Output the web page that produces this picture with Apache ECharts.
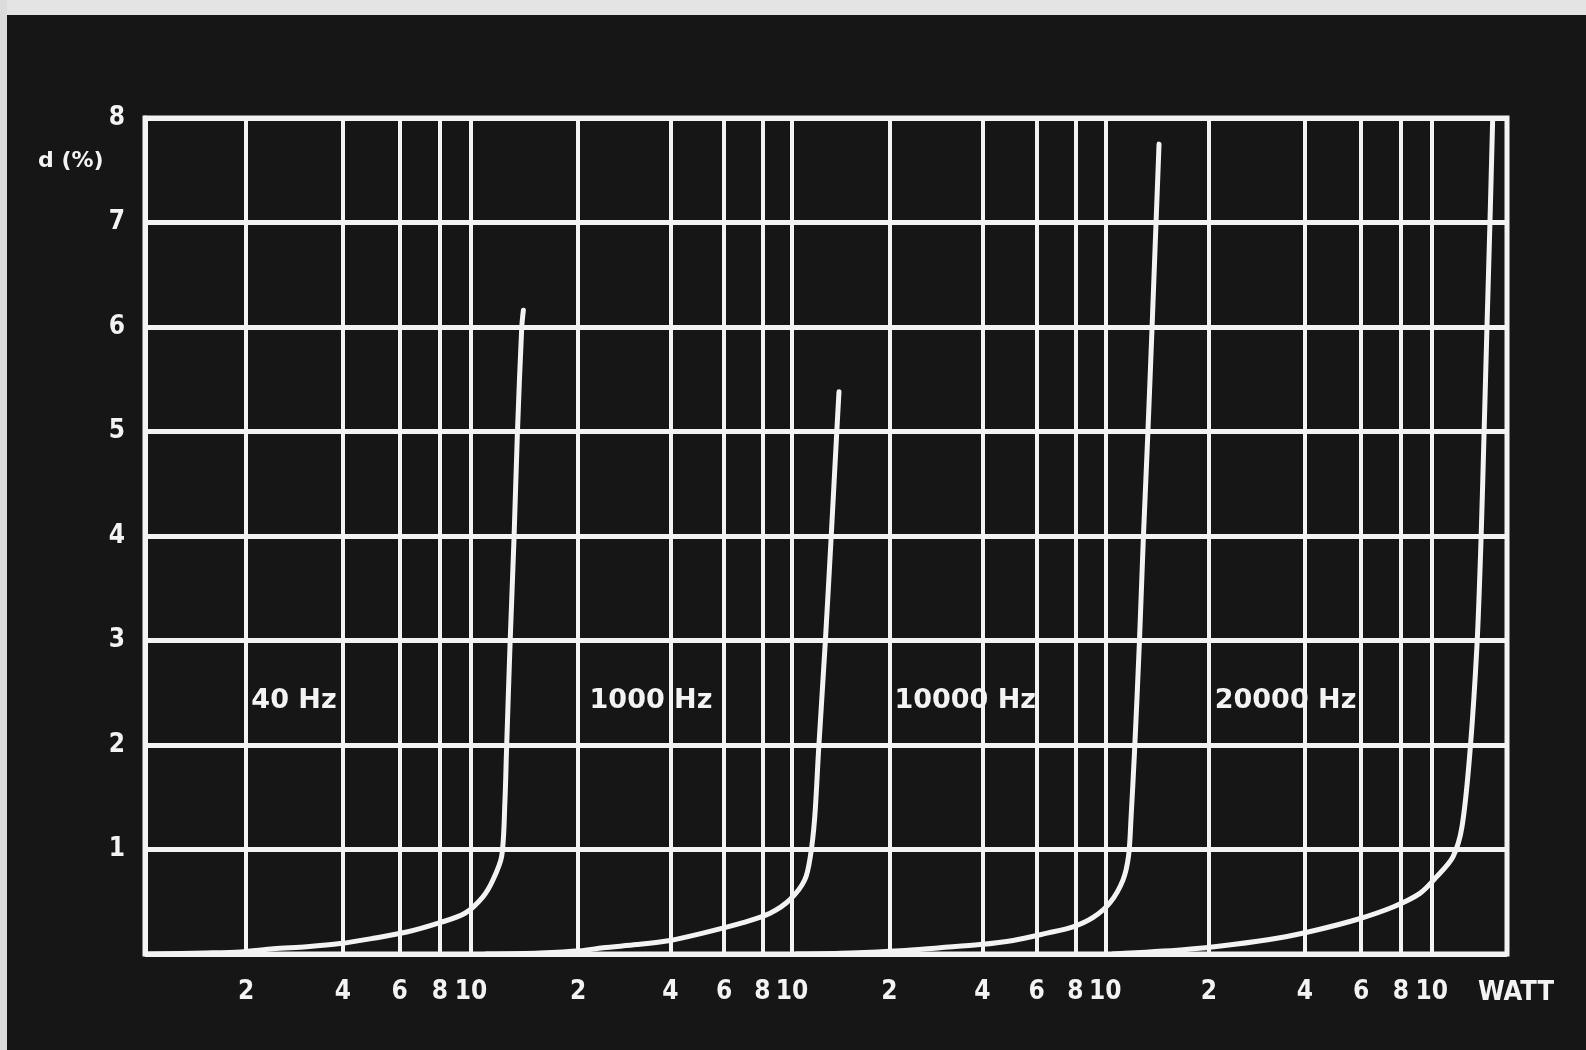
<!DOCTYPE html>
<html>
<head>
<meta charset="utf-8">
<script src="https://cdn.jsdelivr.net/npm/echarts@6/dist/echarts.min.js"></script>
<style>
html,body{margin:0;padding:0;background:#161616;}
#c{width:1586px;height:1050px;}
</style>
</head>
<body>
<div id="c"></div>
<script>
// ---- data ----
const wattTicks = [2, 4, 6, 8, 10];
const freqLabels = ['40 Hz', '1000 Hz', '10000 Hz', '20000 Hz'];
const yLabel = 'd (%)';
const xUnit = 'WATT';

// [power (W), distortion d (%)]
const curve40 = [[1,0],[1.5,0.01],[1.92,0.02],[2.43,0.05],[3.09,0.07],[3.92,0.1],[4.96,0.15],[6.31,0.21],[8.0,0.3],[9.57,0.39],[10.9,0.55],[11.7,0.71],[12.45,0.94],[12.74,1.47],[12.88,1.94],[13.21,2.96],[13.59,3.97],[13.92,4.97],[14.36,5.99],[14.53,6.16]];
const curve1000 = [[1,0],[1.5,0.01],[2.03,0.03],[2.41,0.06],[3.11,0.09],[3.99,0.13],[5.11,0.2],[6.91,0.3],[8.47,0.39],[9.84,0.52],[11.0,0.71],[11.48,0.94],[11.85,1.3],[12.2,1.94],[12.81,2.94],[13.4,3.96],[13.99,4.99],[14.23,5.38]];
const curve10000 = [[1,0],[1.5,0.01],[2.17,0.03],[2.92,0.06],[3.93,0.09],[5.03,0.13],[6.48,0.2],[7.86,0.26],[9.13,0.35],[10.35,0.49],[11.41,0.71],[11.89,0.94],[12.11,1.3],[12.43,1.94],[12.88,2.96],[13.27,3.97],[13.72,4.97],[14.16,5.99],[14.59,7.0],[14.92,7.75]];
const curve20000 = [[1,0],[1.66,0.04],[2.38,0.09],[3.27,0.15],[4.36,0.23],[5.82,0.33],[7.56,0.45],[9.18,0.58],[10.36,0.74],[11.65,0.93],[12.44,1.22],[13.17,1.93],[13.86,2.96],[14.27,3.97],[14.58,4.97],[14.89,5.99],[15.22,7.01],[15.52,7.99]];

const curves = [curve40, curve1000, curve10000, curve20000];

// ---- styling / layout ----
const FONT_C = '"DejaVu Sans Condensed","DejaVu Sans",sans-serif';
const FONT = '"DejaVu Sans",sans-serif';
const WHITE = '#f3f3f3';
const BG = '#161616';
// each panel has its own logarithmic watt axis sharing the one grid
const axisRanges = [[0.9711, 16487], [0.07678, 2169], [0.007817, 199.3], [0.0009249, 17.21]];
const labelAnchor = [[2.07, 2.42], [2.17, 2.42], [2.07, 2.42], [2.08, 2.42]];

const chart = echarts.init(document.getElementById('c'), null, {renderer: 'canvas'});

const xAxes = axisRanges.map(r => ({
  type: 'log', logBase: 10, gridIndex: 0, min: r[0], max: r[1], show: false
}));

const gridSeries = curves.map((c, i) => ({
  type: 'line', xAxisIndex: i, yAxisIndex: 0, data: [], z: 2, silent: true,
  markLine: {
    silent: true, animation: false, symbol: ['none', 'none'],
    lineStyle: {color: WHITE, width: 4, type: 'solid', opacity: 1},
    emphasis: {disabled: true},
    label: {show: true, position: 'start', formatter: '{b}', distance: 25,
      color: WHITE, fontSize: 26, fontWeight: 'bold', fontFamily: FONT_C},
    data: wattTicks.map(v => ({xAxis: v, name: String(v)}))
  }
}));

const curveSeries = curves.map((c, i) => ({
  type: 'line', name: freqLabels[i], xAxisIndex: i, yAxisIndex: 0, data: c, z: 5,
  showSymbol: false, smooth: 0.3, silent: true,
  lineStyle: {color: WHITE, width: 5, cap: 'round', join: 'round'},
  markPoint: {
    silent: true, animation: false, symbol: 'circle', symbolSize: 1,
    itemStyle: {color: 'rgba(0,0,0,0)'},
    label: {show: true, position: 'right', distance: 0, formatter: '{b}',
      color: WHITE, fontSize: 27, fontWeight: 'bold', fontFamily: FONT},
    data: [{name: freqLabels[i], coord: labelAnchor[i]}]
  }
}));

chart.setOption({
  backgroundColor: BG,
  animation: false,
  grid: {left: 145, right: 79, top: 118, bottom: 96, containLabel: false, outerBoundsMode: 'none',
    show: true, borderColor: WHITE, borderWidth: 5, backgroundColor: 'transparent'},
  xAxis: xAxes,
  yAxis: {
    type: 'value', min: 0, max: 8, interval: 1,
    axisLine: {show: true, lineStyle: {color: WHITE, width: 5}},
    axisTick: {show: false},
    axisLabel: {color: WHITE, fontSize: 26, fontWeight: 'bold', fontFamily: FONT_C, margin: 20,
      formatter: v => (v === 0 ? '' : String(v))},
    splitLine: {show: true, lineStyle: {color: WHITE, width: 5}}
  },
  graphic: [
    {type: 'rect', left: 0, top: 0, shape: {width: 1586, height: 15}, style: {fill: '#e4e4e4'}, silent: true},
    {type: 'rect', left: 0, top: 0, shape: {width: 7, height: 1050}, style: {fill: '#dcdcdc'}, silent: true},
    {type: 'text', left: 38, top: 150, silent: true,
      style: {text: yLabel, fill: WHITE, fontSize: 22, fontWeight: 'bold', fontFamily: FONT}},
    {type: 'text', left: 1478, top: 979, silent: true,
      style: {text: xUnit, fill: WHITE, fontSize: 27, fontWeight: 'bold', fontFamily: FONT_C}}
  ],
  series: gridSeries.concat(curveSeries)
});
</script>
</body>
</html>
